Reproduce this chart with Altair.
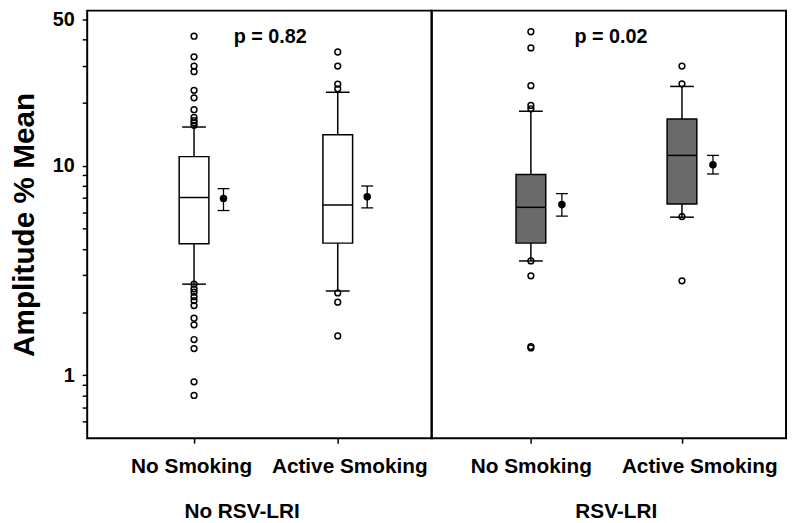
import altair as alt
import pandas as pd

# ---------------- data ----------------
groups = ["No RSV-LRI", "No RSV-LRI", "RSV-LRI", "RSV-LRI"]
smoking = ["No Smoking", "Active Smoking", "No Smoking", "Active Smoking"]
category_index = [1, 2, 1, 2]
whisker_low = [2.72, 2.52, 3.51, 5.68]
quartile_1 = [4.24, 4.27, 4.27, 6.57]
median = [7.05, 6.50, 6.33, 11.2]
quartile_3 = [11.05, 14.06, 9.08, 16.7]
whisker_high = [15.3, 22.4, 18.2, 23.9]
mean = [6.98, 7.10, 6.52, 10.1]
mean_low = [6.11, 6.29, 5.75, 9.13]
mean_high = [7.77, 8.0, 7.36, 11.2]
outliers = [
    [41.5, 33.1, 29.9, 28.1, 22.9, 21.1, 18.5, 17.0, 16.4, 16.0, 15.6,
     2.72, 2.58, 2.49, 2.37, 2.27, 2.15, 1.87, 1.74, 1.48, 1.34, 0.93, 0.80],
    [34.9, 29.9, 24.5, 23.3, 2.47, 2.23, 1.54],
    [43.6, 36.5, 24.1, 19.4, 18.7, 3.51, 2.98, 1.37, 1.35],
    [29.9, 24.6, 5.72, 2.82],
]
panel_groups = ["No RSV-LRI", "RSV-LRI"]
p_values = ["p = 0.82", "p = 0.02"]
category_labels = ["No Smoking", "Active Smoking"]
y_tick_values = [0.6, 0.7, 0.8, 0.9, 1, 2, 3, 4, 5, 6, 7, 8, 9, 10, 20, 30, 40, 50]
y_labelled = [1, 10, 50]

# ---------------- layout / style ----------------
FONT = "Liberation Sans"
BOX_FILL = ["white", "#6a6a6a"]
PANEL_W = [348, 358]
PANEL_H = 432
X_DOMAINS = [[0.291, 2.619], [0.376, 2.656]]
X_TITLE_X = [156, 186]
MEAN_SHIFT = 0.205
P_X = 1.53
P_Y = 38.5
NBSP = "\u00a0"
ZW = "\u200b"          # keeps the nudging spaces from being trimmed
LABEL_TRAIL = [1, 0]   # label nudges as in the reference
LABEL_LEAD = [4, 6]

summary = pd.DataFrame({
    "group": groups, "smoking": smoking, "pos": category_index,
    "wlo": whisker_low, "q1": quartile_1, "med": median, "q3": quartile_3,
    "whi": whisker_high, "mean": mean, "mlo": mean_low, "mhi": mean_high,
})
rows = []
for g, p, vals in zip(groups, category_index, outliers):
    for v in vals:
        rows.append({"group": g, "pos": p, "value": v})
outlier_df = pd.DataFrame(rows)
ptext_df = pd.DataFrame({"group": panel_groups, "label": p_values})

y_scale = alt.Scale(type="log", domain=[0.5, 55], nice=False)
label_expr_y = ("indexof([" + ",".join(str(v) for v in y_labelled) +
                "], datum.value) >= 0 ? format(datum.value, 'd') : ''")


def make_panel(i, show_y):
    g = panel_groups[i]
    sdf = summary[summary.group == g]
    odf = outlier_df[outlier_df.group == g]
    tdf = ptext_df[ptext_df.group == g]

    labels = [category_labels[0] + NBSP * LABEL_TRAIL[i] + ZW,
              ZW + NBSP * LABEL_LEAD[i] + category_labels[1]]
    label_expr_x = "[" + ",".join("'" + c + "'" for c in labels) + "][datum.value - 1]"

    x_scale = alt.Scale(domain=X_DOMAINS[i], nice=False, zero=False)
    x_axis = alt.Axis(
        values=[1, 2], labelExpr=label_expr_x, title=g, grid=False, domain=False,
        tickSize=5, tickWidth=1.5, tickColor="black",
        labelFont=FONT, labelFontSize=21, labelFontWeight="bold", labelColor="black",
        labelPadding=13, labelOverlap=False, labelLimit=400,
        titleFont=FONT, titleFontSize=21, titleFontWeight="bold", titleColor="black",
        titleX=X_TITLE_X[i], titleY=80, titleBaseline="alphabetic", titleAlign="center",
    )
    if show_y:
        y_axis = alt.Axis(
            values=y_tick_values, labelExpr=label_expr_y, title="Amplitude % Mean",
            grid=False, domain=False, tickSize=5, tickWidth=1.5, tickColor="black",
            labelFont=FONT, labelFontSize=20, labelFontWeight="bold", labelColor="black",
            labelPadding=8, labelOverlap=False,
            titleFont=FONT, titleFontSize=30, titleFontWeight="bold", titleColor="black",
            titleAngle=270, titleX=-54, titleBaseline="alphabetic",
        )
    else:
        y_axis = None

    def X(f):
        return alt.X(f, type="quantitative", scale=x_scale, axis=x_axis)

    def Y(f):
        return alt.Y(f, type="quantitative", scale=y_scale, axis=y_axis)

    base = alt.Chart(sdf)
    whisker = base.mark_rule(color="black", strokeWidth=1.5).encode(
        x=X("pos"), y=Y("wlo"), y2="whi")
    caps = base.transform_fold(["wlo", "whi"], as_=["k", "v"]).mark_tick(
        orient="horizontal", size=24, thickness=1.5, color="black", opacity=1
    ).encode(x=X("pos"), y=Y("v"))
    box = base.mark_bar(
        orient="vertical", size=30, fill=BOX_FILL[i], stroke="black", strokeWidth=1.5
    ).encode(x=X("pos"), y=Y("q1"), y2="q3")
    med = base.mark_tick(
        orient="horizontal", size=30, thickness=1.5, color="black", opacity=1
    ).encode(x=X("pos"), y=Y("med"))
    outs = alt.Chart(odf).mark_point(
        shape="circle", filled=False, size=34, strokeWidth=1.5, color="black", opacity=1
    ).encode(x=X("pos"), y=Y("value"))

    mbase = base.transform_calculate(mpos="datum.pos + " + str(MEAN_SHIFT))
    err = mbase.mark_rule(color="black", strokeWidth=1.3).encode(
        x=X("mpos"), y=Y("mlo"), y2="mhi")
    err_caps = mbase.transform_fold(["mlo", "mhi"], as_=["k", "v"]).mark_tick(
        orient="horizontal", size=12, thickness=1.3, color="black", opacity=1
    ).encode(x=X("mpos"), y=Y("v"))
    dot = mbase.mark_point(
        shape="circle", filled=True, size=58, color="black", opacity=1
    ).encode(x=X("mpos"), y=Y("mean"))

    ptxt = alt.Chart(tdf).mark_text(
        font=FONT, fontSize=20, fontWeight="bold", color="black",
        baseline="alphabetic", align="center"
    ).encode(x=alt.datum(P_X), y=alt.datum(P_Y), text="label:N")

    return alt.layer(whisker, caps, box, med, outs, err, err_caps, dot, ptxt).properties(
        width=PANEL_W[i], height=PANEL_H)


chart = alt.hconcat(
    make_panel(0, True), make_panel(1, False), spacing=0, bounds="flush"
).properties(
    padding={"left": 0, "top": -3, "right": 2, "bottom": 0}
).configure_view(stroke="black", strokeWidth=2)

chart.save("out.html", embed_options={"renderer": "svg", "actions": False})
